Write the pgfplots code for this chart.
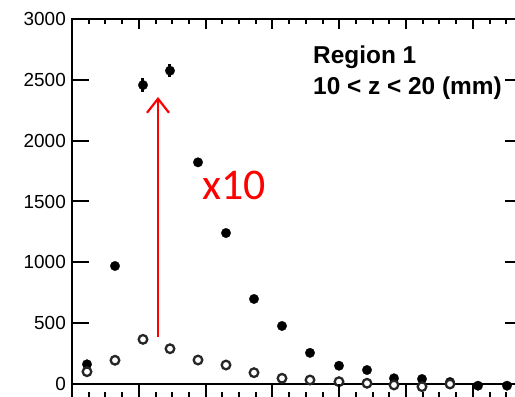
\documentclass[border=0pt]{standalone}
\usepackage{pgfplots}
\pgfplotsset{compat=1.18}
\usepackage{pgfplotstable}
\usepackage{fontspec}
\setmainfont{Liberation Sans}
\newfontfamily\carlito{Carlito}
\usetikzlibrary{arrows.meta}

% x in pixel-like units from the left axis line
\pgfplotstableread{
x y e
15 162 0
43 970 0
71 2457 55
98 2575 55
126 1822 30
154 1241 0
182 699 0
210 477 0
238 256 0
267 150 0
295 115 0
322 47 0
350 41 0
378 16 0
406 -14 0
435 -14 0
}\filled

\pgfplotstableread{
x y
15 101
43 195
71 367
98 290
126 197
154 156
182 93
210 47
238 33
267 19
295 6
322 -8
350 -22
378 0
}\open

\def\majorx{0,66.8,133.6,200.4,267.2,334,400.8}
\def\minorx{16.7,33.4,50.1,83.5,100.2,116.9,150.3,167,183.7,217.1,233.8,250.5,283.9,300.6,317.3,350.7,367.4,384.1,417.5,434.2}

\begin{document}
\begin{tikzpicture}
% main axis: box, y ticks
\begin{axis}[
  at={(0,0)}, anchor=south west,
  scale only axis, width=450bp, height=365bp,
  xmin=0, xmax=450, ymin=0, ymax=3000,
  clip=false,
  axis line style={line width=2bp},
  tick style={line width=2bp, black},
  tick align=inside,
  xtick=\empty,
  ytick={0,500,1000,1500,2000,2500,3000},
  yticklabels={0,500,1000,1500,2000,2500,3000},
  ytick pos=both,
  yticklabel pos=left,
  major tick length=17bp,
  yticklabel style={font=\fontsize{19}{19}\selectfont, anchor=east, inner sep=0pt, xshift=-6bp},
]
\addplot[only marks, mark=*, black, mark size=4.8bp, mark options={line width=0.2bp},
  error bars/.cd, y dir=both, y explicit, error mark=none,
  error bar style={line width=3bp, black}]
  table[x=x, y=y, y error=e] {\filled};
\addplot[only marks, mark=*, mark size=4.3bp,
  mark options={fill=white, draw=black!85, line width=2.3bp}]
  table[x=x, y=y] {\open};

\node[anchor=base west, inner sep=0pt, font=\fontsize{24.5}{24.5}\selectfont\bfseries]
  at (axis cs:241,2638) {Region 1};
\node[anchor=base west, inner sep=0pt, font=\fontsize{24.5}{24.5}\selectfont\bfseries]
  at (axis cs:241,2379) {10 < z < 20 (mm)};
\node[anchor=base west, inner sep=0pt, text=red, font=\carlito\fontsize{44}{44}\selectfont]
  at (axis cs:130,1520) {x10};
\draw[red, line width=2.2bp, -{Straight Barb[length=14bp, width=22bp]}]
  (axis cs:86,386) -- (axis cs:86,2359);
\end{axis}

% top x ticks
\begin{axis}[
  at={(0,0)}, anchor=south west,
  scale only axis, width=450bp, height=365bp,
  xmin=0, xmax=450, ymin=0, ymax=1,
  axis x line*=top, axis y line=none,
  x axis line style={-, line width=2bp},
  tick style={line width=2bp, black},
  tick align=inside,
  xtick/.expanded=\majorx,
  minor xtick/.expanded=\minorx,
  xticklabels={},
  major tick length=10bp, minor tick length=5bp,
]
\addplot[draw=none] coordinates {(0,0)};
\end{axis}

% bottom x ticks (from the panel below)
\begin{axis}[
  at={(0,-15bp)}, anchor=south west,
  scale only axis, width=450bp, height=10bp,
  xmin=0, xmax=450, ymin=0, ymax=1,
  axis x line*=bottom, axis y line=none,
  x axis line style={-, line width=2bp},
  tick style={line width=2bp, black},
  tick align=inside,
  xtick/.expanded=\majorx,
  minor xtick/.expanded=\minorx,
  xticklabels={},
  major tick length=15bp, minor tick length=7bp,
]
\addplot[draw=none] coordinates {(0,0)};
\end{axis}
\pgfresetboundingbox
\path[use as bounding box] (-72bp,-13bp) rectangle (443bp,384bp);
\end{tikzpicture}
\end{document}
